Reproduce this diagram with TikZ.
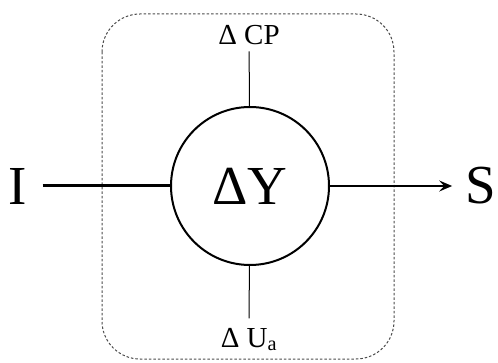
\documentclass[tikz,border=0pt]{standalone}
\usepackage{fontspec}
\setmainfont{Liberation Serif}
\usetikzlibrary{arrows.meta}

\tikzset{
  bigtxt/.style={font=\fontsize{55}{55}\selectfont},
  smalltxt/.style={font=\fontsize{29}{29}\selectfont},
  flowline/.style={line width=2pt},
  sideline/.style={line width=1pt},
}

\begin{document}
\begin{tikzpicture}[x=1pt,y=-1pt,>={Stealth[length=13pt,width=11pt,inset=5pt]}]
\useasboundingbox (0,0) rectangle (498,363);
\draw[gray!60!black,line width=1pt,dash pattern=on 2.5pt off 2pt,rounded corners=38pt] (102,14) rectangle (394,359);
\node[circle,draw,line width=2pt,minimum size=158pt,inner sep=0pt,bigtxt] (dy) at (250,186) {ΔY};
\node[bigtxt] (in) at (18,186) {I};
\node[bigtxt] (out) at (481,186) {S};
\node[smalltxt] (cp) at (249,35) {Δ CP};
\node[smalltxt,anchor=base] (ua) at (249,347) {Δ U\textsubscript{a}};
\draw[line width=3pt,shorten <=12pt] (in) -- (dy);
\draw[flowline,->,shorten >=10pt] (dy) -- (out);
\draw[sideline,shorten <=3pt] (cp) -- (dy);
\draw[sideline,shorten >=6pt] (dy) -- (ua.north);
\end{tikzpicture}
\end{document}
